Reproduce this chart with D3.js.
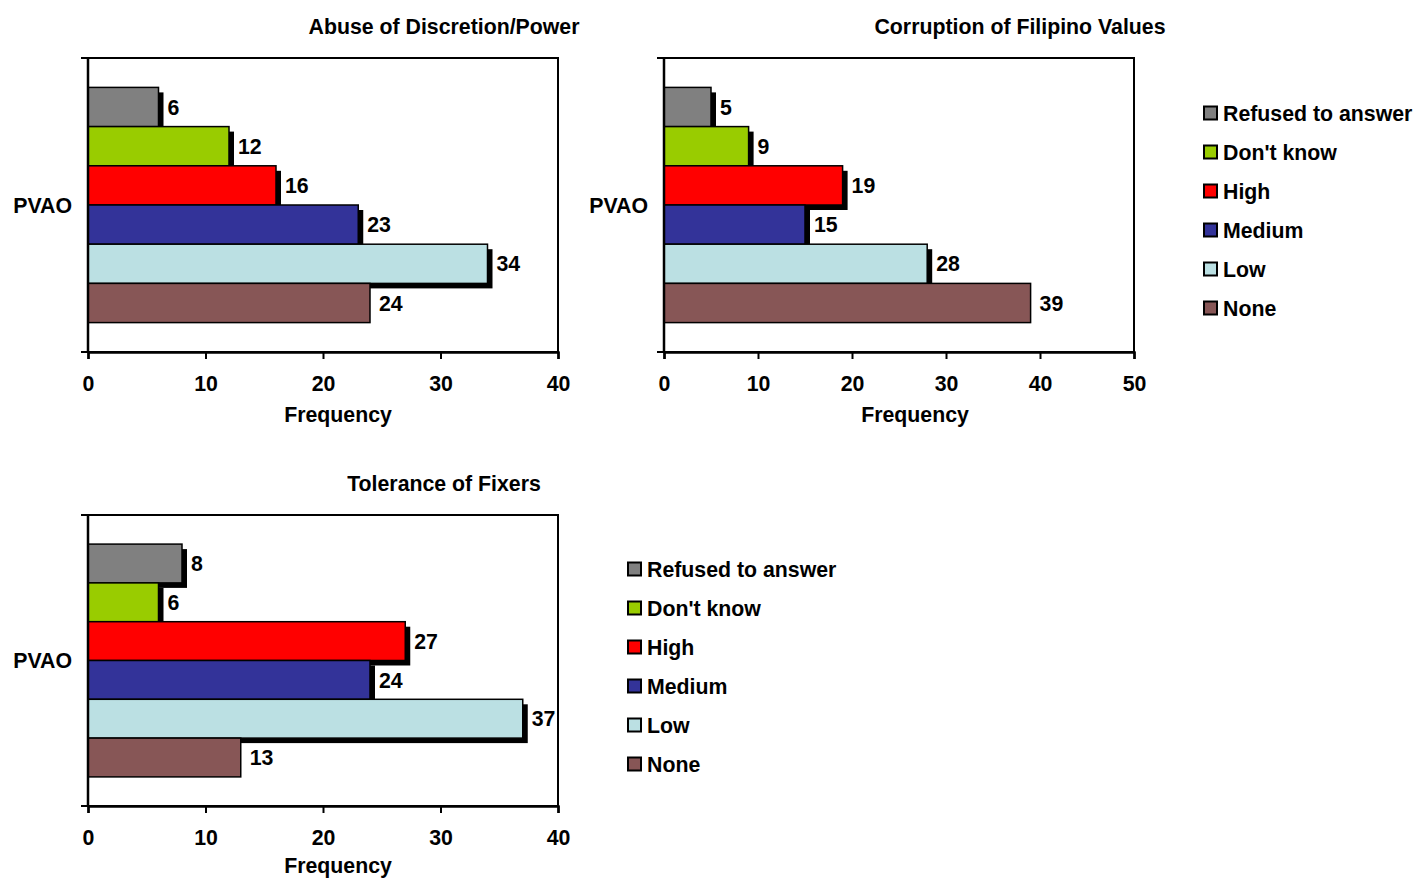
<!DOCTYPE html>
<html><head><meta charset="utf-8">
<script src="https://cdn.jsdelivr.net/npm/d3@7"></script>
<style>
body{margin:0;background:#fff;}
text{font-family:"Liberation Sans",Arial,sans-serif;font-weight:bold;fill:#000;}
</style></head><body>
<svg id="c" width="1415" height="879"></svg>
<script>
const categories = ["Refused to answer","Don't know","High","Medium","Low","None"];
const colors = ["#808080","#99CC00","#FF0000","#333399","#BBE0E3","#875656"];
const abuseValues = [6,12,16,23,34,24];
const corruptionValues = [5,9,19,15,28,39];
const fixersValues = [8,6,27,24,37,13];
const ticks40 = [0,10,20,30,40];
const ticks50 = [0,10,20,30,40,50];
const groupLabel = "PVAO";
const axisTitle = "Frequency";

const svg = d3.select("#c");
const FS = 21.3;

function panel(cfg){
  const {left,right,top,bottom,values,ticks,title,titleX,freqX,freqDy} = cfg;
  const g = svg.append("g");
  const x = d3.scaleLinear().domain([0,ticks[ticks.length-1]]).range([left,right]);
  const y = d3.scaleBand().domain(categories).range([top,bottom]).paddingInner(0).paddingOuter(0.75);
  categories.forEach((c,i)=>{
    const v = values[i];
    if(i < categories.length-1){
      g.append("rect").attr("x",x(0)+5).attr("y",y(c)+5)
        .attr("width",x(v)-x(0)).attr("height",y.bandwidth())
        .attr("fill","#000");
    }
    g.append("rect").attr("x",x(0)).attr("y",y(c))
      .attr("width",x(v)-x(0)).attr("height",y.bandwidth())
      .attr("fill",colors[i]).attr("stroke","#000").attr("stroke-width",1.5);
    g.append("text").attr("x",x(v)+9).attr("y",y(c)+y.bandwidth()/2)
      .attr("dy","0.36em").attr("font-size",FS).text(v);
  });
  g.append("rect").attr("x",left).attr("y",top).attr("width",right-left).attr("height",bottom-top)
    .attr("fill","none").attr("stroke","#000").attr("stroke-width",2);
  const xa = g.append("g").attr("transform",`translate(0,${bottom})`)
    .call(d3.axisBottom(x).tickValues(ticks).tickSize(7).tickPadding(17).tickFormat(d3.format("d")));
  xa.select(".domain").attr("stroke-width",2.5);
  xa.selectAll(".tick line").attr("stroke-width",2);
  xa.selectAll("text").attr("font-size",FS).attr("font-family",null).attr("fill","#000");
  [top,bottom].forEach(yy=>{
    g.append("line").attr("x1",left-7).attr("x2",left).attr("y1",yy).attr("y2",yy)
      .attr("stroke","#000").attr("stroke-width",2);
  });
  g.append("line").attr("x1",left).attr("x2",left).attr("y1",top).attr("y2",bottom)
    .attr("stroke","#000").attr("stroke-width",2.5);
  g.append("text").attr("x",left-16).attr("y",(top+bottom)/2).attr("dy","0.36em")
    .attr("text-anchor","end").attr("font-size",FS).text(groupLabel);
  g.append("text").attr("x",titleX).attr("y",top-32).attr("dy","0.36em")
    .attr("text-anchor","middle").attr("font-size",FS).text(title);
  g.append("text").attr("x",freqX).attr("y",bottom+freqDy).attr("dy","0.36em")
    .attr("text-anchor","middle").attr("font-size",FS).text(axisTitle);
}

function legend(lx,ly){
  const g = svg.append("g");
  categories.forEach((c,i)=>{
    const yy = ly + i*39;
    g.append("rect").attr("x",lx).attr("y",yy-6.5).attr("width",13).attr("height",13)
      .attr("fill",colors[i]).attr("stroke","#000").attr("stroke-width",2);
    g.append("text").attr("x",lx+19).attr("y",yy).attr("dy","0.36em").attr("font-size",FS).text(c);
  });
}

panel({left:88,right:558,top:58,bottom:352,values:abuseValues,ticks:ticks40,title:"Abuse of Discretion/Power",titleX:444,freqX:338,freqDy:62});
panel({left:664,right:1134,top:58,bottom:352,values:corruptionValues,ticks:ticks50,title:"Corruption of Filipino Values",titleX:1020,freqX:915,freqDy:62});
panel({left:88,right:558,top:515,bottom:806,values:fixersValues,ticks:ticks40,title:"Tolerance of Fixers",titleX:444,freqX:338,freqDy:59});
legend(1204,113);
legend(628,569);
</script></body></html>
